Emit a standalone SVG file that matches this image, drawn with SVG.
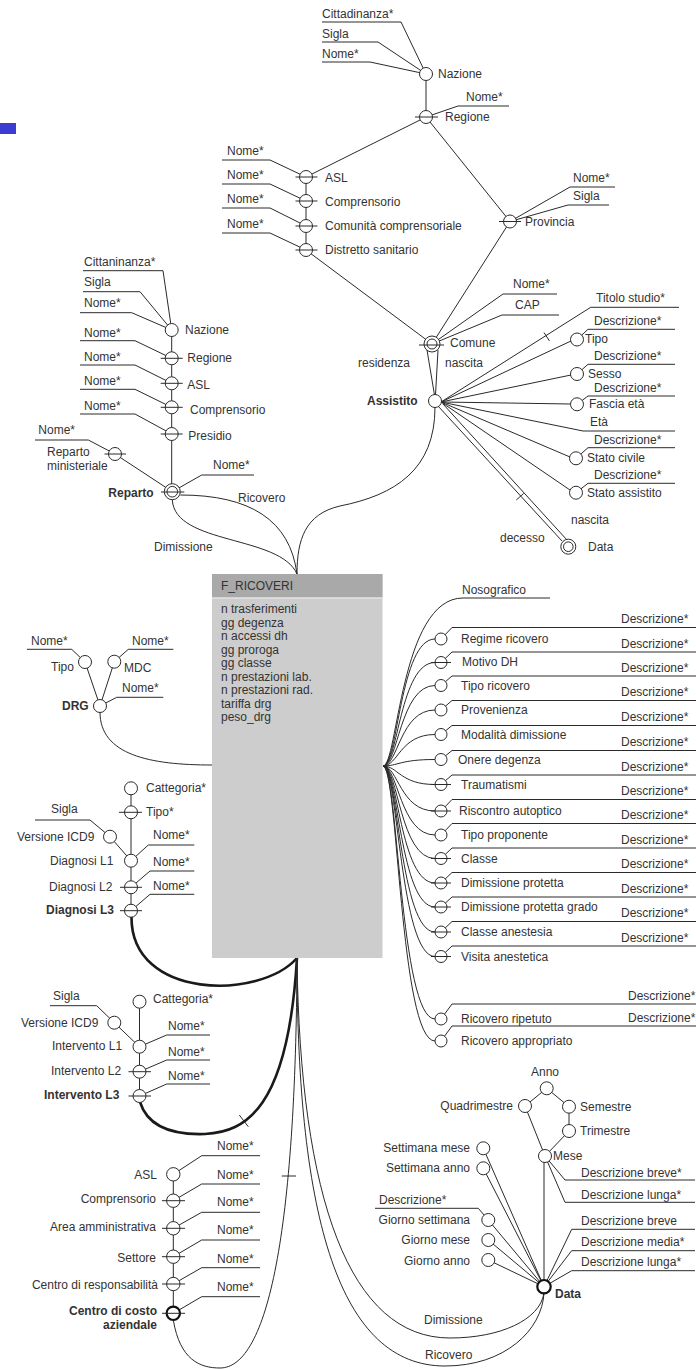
<svg xmlns="http://www.w3.org/2000/svg" width="696" height="1369" viewBox="0 0 696 1369">
<style>
  text { font-family: "Liberation Sans", Arial, sans-serif; font-size: 12px; fill: #333; }
  .b { font-weight: bold; }
  .e { text-anchor: end; }
  .l { fill: none; stroke: #2a2a2a; stroke-width: 1; }
  .k { fill: none; stroke: #1a1a1a; stroke-width: 2.6; }
  .c { fill: #fff; stroke: #2a2a2a; stroke-width: 1; }
  .cb { fill: #fff; stroke: #111; stroke-width: 2.2; }
</style>
<rect x="0" y="123" width="16" height="11" fill="#3c3cd2"/>

<!-- connectors between levels and to the fact -->
<g id="connectors">
  <path class="l" d="M426,74 V117"/>
  <path class="l" d="M426,117 L306,177"/>
  <path class="l" d="M426,117 L510,221.5"/>
  <path class="l" d="M306,177 V250"/>
  <path class="l" d="M306,250 L432,344"/>
  <path class="l" d="M510,221.5 L432,344"/>
  <path class="l" d="M427,350 L434.5,395 M438,350 L435.5,395"/>
  <path class="l" d="M441,402 L590.7,307.3 H679"/>
  <path class="l" d="M544,332.5 L549.4,340.9"/>
  <path class="l" d="M441,402 L571,341"/>
  <path class="l" d="M441,402 L571,375"/>
  <path class="l" d="M441,402 L571,404"/>
  <path class="l" d="M441,402 L583,431 H675"/>
  <path class="l" d="M441,402 L570,457"/>
  <path class="l" d="M441,402 L570,490"/>
  <path class="l" d="M438,406 L562,541 M443,404 L567,540"/>
  <path class="l" d="M523.7,493.4 L516.3,500"/>
  <path class="l" d="M435,407 C435,470 395,495 340,506 C305,514 297,540 297,574"/>
  <path class="l" d="M171.7,330 V491.7"/>
  <path class="l" d="M115,454 L172.3,491.7"/>
  <path class="l" d="M180.3,495 C250,495 290,520 297,574"/>
  <path class="l" d="M172.3,500 C175,545 280,535 297,574"/>
  <path class="l" d="M100,706 L85,662 M100,706 L114.3,661.7"/>
  <path class="l" d="M100,712 C100,755 150,765 212,765"/>
  <path class="l" d="M131,788.3 V910.7"/>
  <path class="l" d="M110,836.7 L131,860.7"/>
  <path class="k" d="M131.5,917 C131,1000 260,1000 297,958"/>
  <path class="l" d="M139.5,1001.7 V1096"/>
  <path class="l" d="M114.3,1022.7 L139.3,1046.7"/>
  <path class="k" d="M140,1102 C148,1128 175,1135 205,1134 C245,1132 288,1110 297,958"/>
  <path class="l" d="M239.3,1115 L248.3,1126.7"/>
  <path class="l" d="M173.3,1174.3 V1313.3"/>
  <path class="l" d="M173.3,1320 C180,1360 200,1368 220,1368 C268,1368 296,1230 297,958"/>
  <path class="l" d="M281.7,1176 H296"/>
  <path class="l" d="M297,958 C300,1200 350,1338 450,1338 C500,1338 540,1320 544,1293"/>
  <path class="l" d="M297,958 C297,1220 340,1366 445,1366 C505,1366 542,1330 544,1293"/>
  <path class="l" d="M546.7,1088.3 L525,1106 M546.7,1088.3 L569,1106.7 M569,1106.7 V1131 M569,1131 L545,1156 M525,1106 L545,1156"/>
  <path class="l" d="M544,1156 V1286.7"/>
  <path class="l" d="M483.3,1148.3 L544,1286.7 M483.3,1168.3 L544,1286.7 M488.3,1220 L544,1286.7 M488.3,1240 L544,1286.7 M488.3,1260 L544,1286.7"/>
  <!-- fan of dimensions on the right side of the fact -->
  <path class="l" d="M383,766 C398,766 400,598 463,598 H550"/>
  <path class="l" d="M383,766 C398,766 400,639 435,639"/>
  <path class="l" d="M383,766 C398,766 400,662.5 435,662.5"/>
  <path class="l" d="M383,766 C398,766 400,685.5 435,685.5"/>
  <path class="l" d="M383,766 C398,766 400,710 435,710"/>
  <path class="l" d="M383,766 C398,766 400,734.5 435,734.5"/>
  <path class="l" d="M383,766 C398,766 400,759.5 435,759.5"/>
  <path class="l" d="M383,766 C398,766 400,784.5 435,784.5"/>
  <path class="l" d="M383,766 C398,766 400,811 435,811"/>
  <path class="l" d="M383,766 C398,766 400,835 435,835"/>
  <path class="l" d="M383,766 C398,766 400,858.5 435,858.5"/>
  <path class="l" d="M383,766 C398,766 400,883 435,883"/>
  <path class="l" d="M383,766 C398,766 400,907 435,907"/>
  <path class="l" d="M383,766 C398,766 400,932 435,932"/>
  <path class="l" d="M383,766 C398,766 400,956.5 435,956.5"/>
  <path class="l" d="M383,766 C398,766 400,1019 435,1019"/>
  <path class="l" d="M383,766 C398,766 400,1041 435,1041"/>
</g>

<!-- fact table -->
<g id="fact">
  <rect x="212" y="574" width="170.5" height="384" fill="#cdcdcd"/>
  <rect x="212" y="574" width="170.5" height="23.5" fill="#a9a9a9"/>
  <path d="M212,598 H382.5" stroke="#eee" stroke-width="1"/>
  <text x="221" y="590">F_RICOVERI</text>
  <text x="221" y="613">n trasferimenti</text>
  <text x="221" y="626.5">gg degenza</text>
  <text x="221" y="640">n accessi dh</text>
  <text x="221" y="653.5">gg proroga</text>
  <text x="221" y="667">gg classe</text>
  <text x="221" y="680.5">n prestazioni lab.</text>
  <text x="221" y="694">n prestazioni rad.</text>
  <text x="221" y="707.5">tariffa drg</text>
  <text x="221" y="721">peso_drg</text>
</g>

<!-- residence / birth place hierarchy -->
<g id="nazione-a">
  <path class="l" d="M322,22 H401 L426,74 M322,42 H378 L426,74 M322,62 H370 L426,74"/>
  <text x="322" y="18">Cittadinanza*</text>
  <text x="322" y="38">Sigla</text>
  <text x="322" y="58">Nome*</text>
  <circle class="c" cx="426" cy="74" r="6.5"/>
  <text x="438" y="78">Nazione</text>
</g>
<g id="regione-a">
  <path class="l" d="M426,117 L458,106 H509"/>
  <text x="466" y="101">Nome*</text>
  <circle class="c" cx="426" cy="117" r="6.5"/>
  <path class="l" d="M415,117 H438"/>
  <text x="445" y="121">Regione</text>
</g>
<g id="asl-a">
  <path class="l" d="M222,160 H270 L306,177"/>
  <text x="227" y="155">Nome*</text>
  <circle class="c" cx="306" cy="177" r="6.5"/>
  <path class="l" d="M295.5,177 H317.5"/>
  <text x="325" y="182">ASL</text>
</g>
<g id="comprensorio-a">
  <path class="l" d="M222,184 H270 L306,201"/>
  <text x="227" y="179">Nome*</text>
  <circle class="c" cx="306" cy="201" r="6.5"/>
  <path class="l" d="M295.5,201 H317.5"/>
  <text x="325" y="206">Comprensorio</text>
</g>
<g id="comunita">
  <path class="l" d="M222,208 H270 L306,226"/>
  <text x="227" y="203">Nome*</text>
  <circle class="c" cx="306" cy="226" r="6.5"/>
  <path class="l" d="M295.5,226 H317.5"/>
  <text x="325" y="230">Comunità comprensoriale</text>
</g>
<g id="distretto">
  <path class="l" d="M222,233 H270 L306,250"/>
  <text x="227" y="228">Nome*</text>
  <circle class="c" cx="306" cy="250" r="6.5"/>
  <path class="l" d="M295.5,250 H317.5"/>
  <text x="325" y="254">Distretto sanitario</text>
</g>
<g id="provincia">
  <path class="l" d="M510,221.5 L570,187 H615 M510,221.5 L568,205 H609"/>
  <text x="573" y="182">Nome*</text>
  <text x="573" y="200">Sigla</text>
  <circle class="c" cx="510" cy="221.5" r="6.5"/>
  <path class="l" d="M499,221.5 H521"/>
  <text x="525" y="226">Provincia</text>
</g>
<g id="comune">
  <path class="l" d="M432,344 L503,294 H557 M432,344 L502,315 H559"/>
  <text x="513" y="288">Nome*</text>
  <text x="515" y="309">CAP</text>
  <circle class="c" cx="432" cy="344" r="8"/>
  <circle class="c" cx="432" cy="344" r="5"/>
  <path class="l" d="M419,345 H444"/>
  <text x="450" y="347">Comune</text>
  <text x="358" y="367">residenza</text>
  <text x="445" y="367">nascita</text>
</g>

<!-- patient dimension -->
<g id="assistito">
  <circle class="c" cx="435" cy="401" r="6.5"/>
  <text class="b" x="367" y="405">Assistito</text>
  <text x="596" y="302">Titolo studio*</text>
  <text x="590" y="426">Età</text>
</g>
<g id="tipo-assistito">
  <path class="l" d="M577,339.5 L588,329.3 H675"/>
  <text x="594" y="325">Descrizione*</text>
  <circle class="c" cx="577" cy="339.5" r="6.5"/>
  <text x="585" y="343">Tipo</text>
</g>
<g id="sesso">
  <path class="l" d="M577,374 L588,364.3 H675"/>
  <text x="594" y="360">Descrizione*</text>
  <circle class="c" cx="577" cy="374" r="6.5"/>
  <text x="588" y="378">Sesso</text>
</g>
<g id="fascia-eta">
  <path class="l" d="M577,404.3 L588,396 H675"/>
  <text x="594" y="392">Descrizione*</text>
  <circle class="c" cx="577" cy="404.3" r="6.5"/>
  <text x="589" y="408">Fascia età</text>
</g>
<g id="stato-civile">
  <path class="l" d="M576,458.3 L588,447.7 H675"/>
  <text x="594" y="443.5">Descrizione*</text>
  <circle class="c" cx="576" cy="458.3" r="6.5"/>
  <text x="587" y="462">Stato civile</text>
</g>
<g id="stato-assistito">
  <path class="l" d="M576,492.7 L588,483.3 H675"/>
  <text x="594" y="478.5">Descrizione*</text>
  <circle class="c" cx="576" cy="492.7" r="6.5"/>
  <text x="587" y="497">Stato assistito</text>
</g>
<g id="data-assistito">
  <circle class="c" cx="568.3" cy="546.7" r="7.5"/>
  <circle class="c" cx="568.3" cy="546.7" r="4.8"/>
  <text x="588" y="551">Data</text>
  <text x="571" y="524">nascita</text>
  <text x="500" y="542">decesso</text>
</g>

<!-- ward hierarchy -->
<g id="nazione-b">
  <path class="l" d="M83,270.7 H163 L171.7,330 M83,291.7 H140 L171.7,330 M80,312.7 H131.7 L171.7,330"/>
  <text x="84" y="266">Cittaninanza*</text>
  <text x="84" y="286">Sigla</text>
  <text x="84" y="307">Nome*</text>
  <circle class="c" cx="171.7" cy="330" r="6.5"/>
  <text x="185" y="334">Nazione</text>
</g>
<g id="regione-b">
  <path class="l" d="M80,340.7 H135 L171.7,358.3"/>
  <text x="84" y="337">Nome*</text>
  <circle class="c" cx="171.7" cy="358.3" r="6.5"/>
  <path class="l" d="M160.7,358.3 H182.7"/>
  <text x="187.3" y="362.3">Regione</text>
</g>
<g id="asl-b">
  <path class="l" d="M80,365 H135 L171.7,383.3"/>
  <text x="84" y="361">Nome*</text>
  <circle class="c" cx="171.7" cy="383.3" r="6.5"/>
  <path class="l" d="M160.7,383.3 H182.7"/>
  <text x="187.3" y="389">ASL</text>
</g>
<g id="comprensorio-b">
  <path class="l" d="M80,389.3 H135 L171.7,407.3"/>
  <text x="84" y="385">Nome*</text>
  <circle class="c" cx="171.7" cy="407.3" r="6.5"/>
  <path class="l" d="M160.7,407.3 H182.7"/>
  <text x="190" y="414">Comprensorio</text>
</g>
<g id="presidio">
  <path class="l" d="M80,414 H135 L171.7,434"/>
  <text x="84" y="410">Nome*</text>
  <circle class="c" cx="171.7" cy="434" r="6.5"/>
  <path class="l" d="M160.7,434 H182.7"/>
  <text x="188.3" y="440">Presidio</text>
</g>
<g id="reparto-ministeriale">
  <path class="l" d="M35,440 H88.3 L115,454"/>
  <text x="38.3" y="434">Nome*</text>
  <circle class="c" cx="115" cy="454" r="6.5"/>
  <path class="l" d="M104.5,454 H126"/>
  <text x="47" y="456">Reparto</text>
  <text x="47" y="470">ministeriale</text>
</g>
<g id="reparto">
  <path class="l" d="M172.3,491.7 L201.7,475 H254"/>
  <text x="213" y="469">Nome*</text>
  <circle class="c" cx="172.3" cy="491.7" r="8"/>
  <circle class="c" cx="172.3" cy="491.7" r="5.3"/>
  <path class="l" d="M161,492 H184.3"/>
  <text class="b" x="108.3" y="497">Reparto</text>
  <text x="238" y="502">Ricovero</text>
  <text x="154" y="551">Dimissione</text>
</g>

<!-- DRG -->
<g id="drg-tipo">
  <path class="l" d="M27,649.3 H71.7 L85,662"/>
  <text x="31" y="645">Nome*</text>
  <circle class="c" cx="85" cy="662" r="6.5"/>
  <text x="51" y="671">Tipo</text>
</g>
<g id="mdc">
  <path class="l" d="M114.3,661.7 L128.3,649.3 H173.3"/>
  <text x="132" y="645">Nome*</text>
  <circle class="c" cx="114.3" cy="661.7" r="6.5"/>
  <text x="124" y="672">MDC</text>
</g>
<g id="drg">
  <path class="l" d="M100,706 L116.7,697.3 H163.3"/>
  <text x="122" y="692">Nome*</text>
  <circle class="c" cx="100" cy="706" r="6.5"/>
  <text class="b" x="62" y="710">DRG</text>
</g>

<!-- diagnosis hierarchy -->
<g id="diag-categoria">
  <circle class="c" cx="131" cy="788.3" r="6.5"/>
  <text x="146" y="792">Cattegoria*</text>
</g>
<g id="diag-tipo">
  <circle class="c" cx="131" cy="812.3" r="6.5"/>
  <path class="l" d="M119,812.3 H142"/>
  <text x="146" y="816">Tipo*</text>
</g>
<g id="diag-versione">
  <path class="l" d="M35,820 H90 L110,836.7"/>
  <text x="51" y="813">Sigla</text>
  <circle class="c" cx="110" cy="836.7" r="6.5"/>
  <text x="17" y="841">Versione ICD9</text>
</g>
<g id="diagnosi-l1">
  <path class="l" d="M131,860.7 L148.3,845 H194.3"/>
  <text x="153" y="839">Nome*</text>
  <circle class="c" cx="131" cy="860.7" r="6.5"/>
  <text x="50" y="865">Diagnosi L1</text>
</g>
<g id="diagnosi-l2">
  <path class="l" d="M131,887.3 L150,871 H194.3"/>
  <text x="153" y="866">Nome*</text>
  <circle class="c" cx="131" cy="887.3" r="6.5"/>
  <path class="l" d="M120,887.3 H142"/>
  <text x="49" y="891">Diagnosi L2</text>
</g>
<g id="diagnosi-l3">
  <path class="l" d="M131,910.7 L150,894.3 H194.3"/>
  <text x="153" y="890">Nome*</text>
  <circle class="c" cx="131" cy="910.7" r="6.5"/>
  <path class="l" d="M120,910.7 H142"/>
  <text class="b" x="46" y="914">Diagnosi L3</text>
</g>

<!-- surgery hierarchy -->
<g id="int-categoria">
  <circle class="c" cx="139.5" cy="1001.7" r="6.5"/>
  <text x="153" y="1003">Cattegoria*</text>
</g>
<g id="int-versione">
  <path class="l" d="M50,1005.7 H96.7 L114.3,1022.7"/>
  <text x="53" y="1000">Sigla</text>
  <circle class="c" cx="114.3" cy="1022.7" r="6.5"/>
  <text x="21" y="1027">Versione ICD9</text>
</g>
<g id="intervento-l1">
  <path class="l" d="M139.5,1046.7 L166.7,1035 H210"/>
  <text x="168" y="1030">Nome*</text>
  <circle class="c" cx="139.5" cy="1046.7" r="6.5"/>
  <text x="52" y="1050">Intervento L1</text>
</g>
<g id="intervento-l2">
  <path class="l" d="M139.5,1071.7 L166.7,1060 H210"/>
  <text x="168" y="1056">Nome*</text>
  <circle class="c" cx="139.5" cy="1071.7" r="6.5"/>
  <path class="l" d="M128.5,1071.7 H151"/>
  <text x="51" y="1075">Intervento L2</text>
</g>
<g id="intervento-l3">
  <path class="l" d="M139.5,1096 L166.7,1084 H210"/>
  <text x="168" y="1080">Nome*</text>
  <circle class="c" cx="139.5" cy="1096" r="6.5"/>
  <path class="l" d="M128.5,1096 H151"/>
  <text class="b" x="44" y="1099">Intervento L3</text>
</g>

<!-- cost centre hierarchy -->
<g id="asl-c">
  <path class="l" d="M173.3,1174.3 L201.7,1155.7 H260"/>
  <text x="217" y="1150">Nome*</text>
  <circle class="c" cx="173.3" cy="1174.3" r="6.7"/>
  <text class="e" x="157" y="1178.5">ASL</text>
</g>
<g id="comprensorio-c">
  <path class="l" d="M173.3,1200.7 L201.7,1184 H260"/>
  <text x="217" y="1178.5">Nome*</text>
  <circle class="c" cx="173.3" cy="1200.7" r="6.7"/>
  <path class="l" d="M162,1200.7 H185"/>
  <text class="e" x="156" y="1203">Comprensorio</text>
</g>
<g id="area-amministrativa">
  <path class="l" d="M173.3,1228.3 L201.7,1212.3 H260"/>
  <text x="217" y="1206">Nome*</text>
  <circle class="c" cx="173.3" cy="1228.3" r="6.7"/>
  <path class="l" d="M162,1228.3 H185"/>
  <text class="e" x="156" y="1231">Area amministrativa</text>
</g>
<g id="settore">
  <path class="l" d="M173.3,1256.7 L201.7,1240 H260"/>
  <text x="217" y="1234">Nome*</text>
  <circle class="c" cx="173.3" cy="1256.7" r="6.7"/>
  <path class="l" d="M162,1256.7 H185"/>
  <text class="e" x="156" y="1262">Settore</text>
</g>
<g id="centro-responsabilita">
  <path class="l" d="M173.3,1284 L201.7,1267.7 H260"/>
  <text x="217" y="1262.7">Nome*</text>
  <circle class="c" cx="173.3" cy="1284" r="6.7"/>
  <path class="l" d="M162,1284 H185"/>
  <text class="e" x="158" y="1288.5">Centro di responsabilità</text>
</g>
<g id="centro-costo">
  <path class="l" d="M173.3,1313.3 L201.7,1296.7 H260"/>
  <text x="217" y="1290.7">Nome*</text>
  <circle class="cb" cx="173.3" cy="1313.3" r="6.7"/>
  <path class="l" d="M162,1313.3 H185"/>
  <text class="b e" x="157" y="1315">Centro di costo</text>
  <text class="b e" x="157" y="1329">aziendale</text>
</g>

<!-- calendar hierarchy -->
<g id="anno">
  <circle class="c" cx="546.7" cy="1088.3" r="6.5"/>
  <text x="531" y="1076">Anno</text>
</g>
<g id="quadrimestre">
  <circle class="c" cx="525" cy="1106" r="6.5"/>
  <text class="e" x="513" y="1110">Quadrimestre</text>
</g>
<g id="semestre">
  <circle class="c" cx="569" cy="1106.7" r="6.5"/>
  <text x="580" y="1111">Semestre</text>
</g>
<g id="trimestre">
  <circle class="c" cx="569" cy="1131" r="6.5"/>
  <text x="580" y="1135">Trimestre</text>
</g>
<g id="mese">
  <path class="l" d="M545,1156 L565,1180 H695 M545,1156 L565,1202.3 H695"/>
  <text x="581" y="1177">Descrizione breve*</text>
  <text x="581" y="1199">Descrizione lunga*</text>
  <circle class="c" cx="545" cy="1156" r="6.5"/>
  <text x="553" y="1160">Mese</text>
</g>
<g id="settimana-mese">
  <circle class="c" cx="483.3" cy="1148.3" r="6.5"/>
  <text class="e" x="470" y="1152">Settimana mese</text>
</g>
<g id="settimana-anno">
  <circle class="c" cx="483.3" cy="1168.3" r="6.5"/>
  <text class="e" x="470" y="1172">Settimana anno</text>
</g>
<g id="giorno-settimana">
  <path class="l" d="M375,1208.3 H478.3 L488.3,1220"/>
  <text x="379" y="1204">Descrizione*</text>
  <circle class="c" cx="488.3" cy="1220" r="6.5"/>
  <text class="e" x="470" y="1224">Giorno settimana</text>
</g>
<g id="giorno-mese">
  <circle class="c" cx="488.3" cy="1240" r="6.5"/>
  <text class="e" x="470" y="1244">Giorno mese</text>
</g>
<g id="giorno-anno">
  <circle class="c" cx="488.3" cy="1260" r="6.5"/>
  <text class="e" x="470" y="1265">Giorno anno</text>
</g>
<g id="data">
  <path class="l" d="M544,1286.7 L571.7,1229.3 H695 M544,1286.7 L571.7,1250.7 H695 M544,1286.7 L571.7,1270.7 H695"/>
  <text x="581" y="1225">Descrizione breve</text>
  <text x="581" y="1246">Descrizione media*</text>
  <text x="581" y="1266">Descrizione lunga*</text>
  <circle class="cb" cx="544" cy="1286.7" r="6.7"/>
  <text class="b" x="555" y="1298">Data</text>
  <text x="424" y="1324">Dimissione</text>
  <text x="425" y="1359">Ricovero</text>
</g>

<!-- admission dimensions -->
<g id="nosografico"><text x="462" y="594">Nosografico</text></g>
<g id="regime-ricovero">
  <path class="l" d="M441,639 L452,627.5 H696"/><text x="621" y="623">Descrizione*</text>
  <circle class="c" cx="441" cy="639" r="6"/><text x="461" y="643">Regime ricovero</text>
</g>
<g id="motivo-dh">
  <path class="l" d="M441,662.5 L452,652 H696"/><text x="621" y="647.5">Descrizione*</text>
  <circle class="c" cx="441" cy="662.5" r="6"/><path class="l" d="M431,662.5 H451"/><text x="462" y="666">Motivo DH</text>
</g>
<g id="tipo-ricovero">
  <path class="l" d="M441,685.5 L452,676 H696"/><text x="621" y="671.5">Descrizione*</text>
  <circle class="c" cx="441" cy="685.5" r="6"/><text x="461" y="689.5">Tipo ricovero</text>
</g>
<g id="provenienza">
  <path class="l" d="M441,710 L452,700.5 H696"/><text x="621" y="696">Descrizione*</text>
  <circle class="c" cx="441" cy="710" r="6"/><text x="461" y="714">Provenienza</text>
</g>
<g id="modalita-dimissione">
  <path class="l" d="M441,734.5 L452,725.5 H696"/><text x="621" y="720.5">Descrizione*</text>
  <circle class="c" cx="441" cy="734.5" r="6"/><text x="461" y="738.5">Modalità dimissione</text>
</g>
<g id="onere-degenza">
  <path class="l" d="M441,759.5 L452,750.5 H696"/><text x="621" y="745.5">Descrizione*</text>
  <circle class="c" cx="441" cy="759.5" r="6"/><text x="458" y="763.5">Onere degenza</text>
</g>
<g id="traumatismi">
  <path class="l" d="M441,784.5 L452,775 H696"/><text x="621" y="770.5">Descrizione*</text>
  <circle class="c" cx="441" cy="784.5" r="6"/><path class="l" d="M431,784.5 H451"/><text x="461" y="788.5">Traumatismi</text>
</g>
<g id="riscontro-autoptico">
  <path class="l" d="M441,811 L452,799.5 H696"/><text x="621" y="795">Descrizione*</text>
  <circle class="c" cx="441" cy="811" r="6"/><path class="l" d="M431,811 H451"/><text x="459" y="815">Riscontro autoptico</text>
</g>
<g id="tipo-proponente">
  <path class="l" d="M441,835 L452,823.5 H696"/><text x="621" y="819">Descrizione*</text>
  <circle class="c" cx="441" cy="835" r="6"/><text x="461" y="839">Tipo proponente</text>
</g>
<g id="classe">
  <path class="l" d="M441,858.5 L452,848 H696"/><text x="621" y="843.5">Descrizione*</text>
  <circle class="c" cx="441" cy="858.5" r="6"/><path class="l" d="M431,858.5 H451"/><text x="461" y="862.5">Classe</text>
</g>
<g id="dimissione-protetta">
  <path class="l" d="M441,883 L452,872.5 H696"/><text x="621" y="868">Descrizione*</text>
  <circle class="c" cx="441" cy="883" r="6"/><path class="l" d="M431,883 H451"/><text x="461" y="887">Dimissione protetta</text>
</g>
<g id="dimissione-protetta-grado">
  <path class="l" d="M441,907 L452,897 H696"/><text x="621" y="892.5">Descrizione*</text>
  <circle class="c" cx="441" cy="907" r="6"/><path class="l" d="M431,907 H451"/><text x="461" y="911">Dimissione protetta grado</text>
</g>
<g id="classe-anestesia">
  <path class="l" d="M441,932 L452,921.5 H696"/><text x="621" y="917">Descrizione*</text>
  <circle class="c" cx="441" cy="932" r="6"/><path class="l" d="M431,932 H451"/><text x="461" y="936">Classe anestesia</text>
</g>
<g id="visita-anestetica">
  <path class="l" d="M441,956.5 L452,946 H696"/><text x="621" y="941.5">Descrizione*</text>
  <circle class="c" cx="441" cy="956.5" r="6"/><path class="l" d="M431,956.5 H451"/><text x="461" y="960.5">Visita anestetica</text>
</g>
<g id="ricovero-ripetuto">
  <path class="l" d="M441,1019 L452,1004 H696"/><text x="628" y="1000">Descrizione*</text>
  <circle class="c" cx="441" cy="1019" r="6"/><text x="461" y="1023">Ricovero ripetuto</text>
</g>
<g id="ricovero-appropriato">
  <path class="l" d="M441,1041 L452,1026 H696"/><text x="628" y="1022">Descrizione*</text>
  <circle class="c" cx="441" cy="1041" r="6"/><text x="461" y="1045">Ricovero appropriato</text>
</g>
</svg>
